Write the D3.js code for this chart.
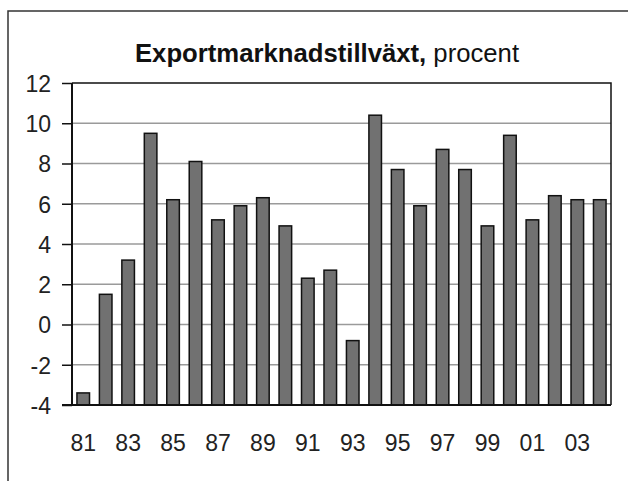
<!DOCTYPE html>
<html><head><meta charset="utf-8">
<script src="https://cdn.jsdelivr.net/npm/d3@7"></script>
<style>body{margin:0;background:#fff}svg{display:block}</style>
</head><body>
<script>
const years = ["81","82","83","84","85","86","87","88","89","90","91","92","93","94","95","96","97","98","99","00","01","02","03","04"];
const values = [-3.4,1.5,3.2,9.5,6.2,8.1,5.2,5.9,6.3,4.9,2.3,2.7,-0.8,10.4,7.7,5.9,8.7,7.7,4.9,9.4,5.2,6.4,6.2,6.2];
const yTicks = [-4,-2,0,2,4,6,8,10,12];
const xLabels = ["81","83","85","87","89","91","93","95","97","99","01","03"];
const titleBold = "Exportmarknadstillväxt,";
const titleNormal = " procent";

const W = 628, H = 481;
const FONT = "Liberation Sans, Arial, sans-serif";
const svg = d3.select("body").append("svg").attr("width", W).attr("height", H);
svg.append("rect").attr("width", W).attr("height", H).attr("fill", "#fff");

// outer frame
svg.append("path").attr("d", `M8,${H} V11 H${W}`).attr("fill","none").attr("stroke","#333").attr("stroke-width",1.5);

const pL = 72, pR = 611, pT = 83, pB = 405;
const x = d3.scaleBand().domain(years).range([pL, pR]).paddingInner(0.44).paddingOuter(0.22);
const y = d3.scaleLinear().domain([-4, 12]).range([pB, pT]);

// gridlines
svg.append("g").selectAll("line").data(yTicks.filter(t => t > -4 && t < 12)).join("line")
  .attr("x1", pL).attr("x2", pR).attr("y1", d => y(d)).attr("y2", d => y(d))
  .attr("stroke", "#9a9a9a").attr("stroke-width", 1.5);

// bars (from axis at -4)
svg.append("g").selectAll("rect").data(years.map((k,i)=>({k, v: values[i]}))).join("rect")
  .attr("x", d => x(d.k)).attr("width", x.bandwidth())
  .attr("y", d => y(d.v)).attr("height", d => y(-4) - y(d.v))
  .attr("fill", "#717171").attr("stroke", "#111").attr("stroke-width", 1.5);

// plot frame top/right
svg.append("path").attr("d", `M${pL},${pT} H${pR} V${pB}`).attr("fill","none").attr("stroke","#111").attr("stroke-width",1.5);

// y axis
const yAxis = d3.axisLeft(y).tickValues(yTicks).tickSize(10).tickPadding(11).tickFormat(d => String(d));
const gy = svg.append("g").attr("transform", `translate(${pL},0)`).call(yAxis);
gy.select(".domain").attr("stroke","#111").attr("stroke-width",2).attr("d", `M0,${pT}V${pB}`);
gy.selectAll(".tick line").attr("stroke","#111").attr("stroke-width",1.5);
gy.selectAll(".tick text").attr("font-family",FONT).attr("font-size",23).attr("fill","#222").attr("dy","0.36em");

// x axis
const xAxis = d3.axisBottom(x).tickValues(xLabels).tickSize(0).tickPadding(30);
const gx = svg.append("g").attr("transform", `translate(0,${pB})`).call(xAxis);
gx.select(".domain").attr("stroke","#111").attr("stroke-width",2).attr("d", `M${pL-10},0H${pR}`);
gx.selectAll(".tick text").attr("font-family",FONT).attr("font-size",23).attr("fill","#222");

// title
const t = svg.append("text").attr("x", 327).attr("y", 62).attr("text-anchor","middle")
  .attr("font-family",FONT).attr("font-size",25.7).attr("fill","#111");
t.append("tspan").attr("font-weight","bold").text(titleBold);
t.append("tspan").text(titleNormal);
</script>
</body></html>
